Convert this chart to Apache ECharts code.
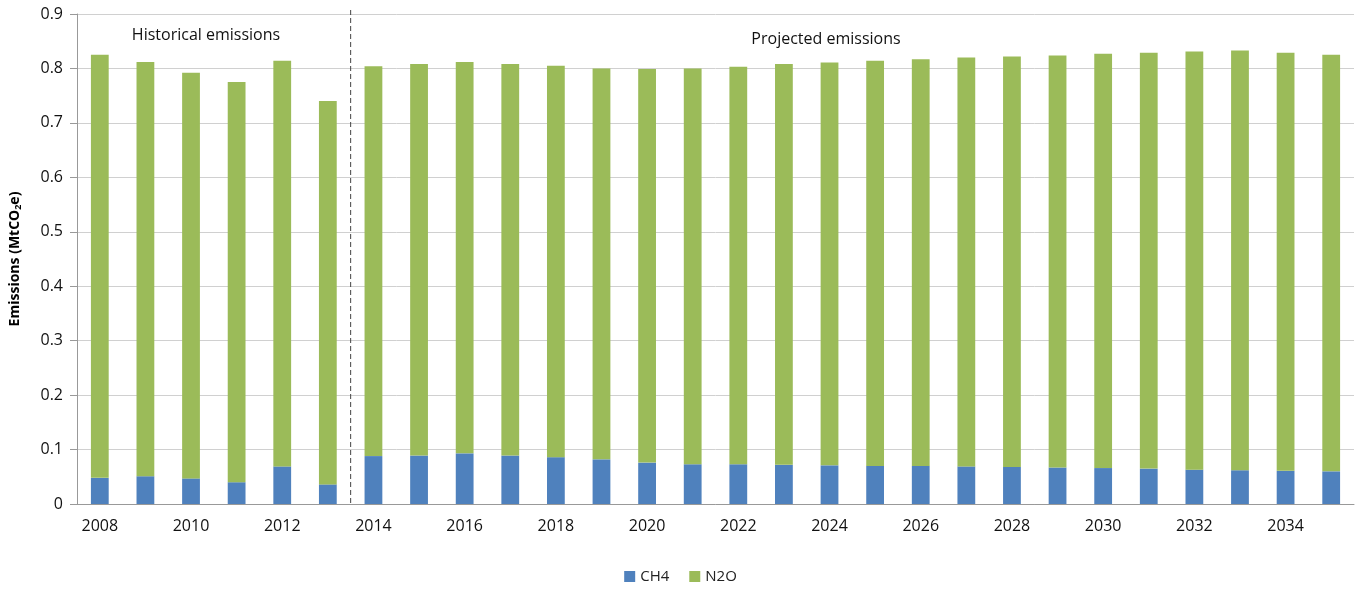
<!DOCTYPE html>
<html><head><meta charset="utf-8">
<script src="https://cdn.jsdelivr.net/npm/echarts@6/dist/echarts.min.js"></script>
<style>html,body{margin:0;padding:0;background:#fff}#c{width:1361px;height:595px}</style>
</head><body><div id="c"></div>
<script>
const years = ['2008','2009','2010','2011','2012','2013','2014','2015','2016','2017','2018','2019','2020','2021','2022','2023','2024','2025','2026','2027','2028','2029','2030','2031','2032','2033','2034','2035'];
const ch4 = [0.048,0.051,0.047,0.040,0.069,0.036,0.088,0.089,0.093,0.089,0.086,0.082,0.076,0.073,0.073,0.072,0.071,0.070,0.070,0.069,0.068,0.067,0.066,0.065,0.063,0.062,0.061,0.060];
const n2o = [0.777,0.761,0.745,0.735,0.745,0.704,0.716,0.719,0.719,0.719,0.719,0.718,0.723,0.727,0.730,0.736,0.740,0.744,0.747,0.751,0.754,0.757,0.761,0.764,0.768,0.771,0.768,0.765];
const yTicks = [0,0.1,0.2,0.3,0.4,0.5,0.6,0.7,0.8,0.9];
const font = 'Open Sans';
const chart = echarts.init(document.getElementById('c'));
chart.setOption({
  animation:false,
  textStyle:{fontFamily:font},
  grid:{left:77,right:7,top:14,bottom:91,containLabel:false,outerBoundsMode:'none'},
  legend:{bottom:6,itemWidth:11,itemHeight:11,itemGap:20,icon:'rect',textStyle:{fontSize:15,color:'#222',fontFamily:font},data:['CH4','N2O']},
  xAxis:{type:'category',data:years,axisTick:{show:false},
    axisLine:{lineStyle:{color:'#999'}},
    axisLabel:{interval:1,color:'#111',fontSize:16,margin:14}},
  yAxis:{type:'value',min:0,max:0.9,interval:0.1,
    name:'Emissions (MtCO{s|2}e)',nameLocation:'middle',nameGap:54,
    nameTextStyle:{fontSize:14,fontWeight:'bold',color:'#000',rich:{s:{fontSize:9,fontWeight:'bold',verticalAlign:'bottom',padding:[6,0,0,0]}}},
    axisLine:{show:true,lineStyle:{color:'#999'}},splitLine:{show:true,lineStyle:{color:'#d0d0d0'}},
    axisTick:{show:true,length:7,lineStyle:{color:'#999'}},
    axisLabel:{color:'#111',fontSize:16,margin:14,formatter:v=>yTicks.includes(Math.round(v*10)/10)?String(Math.round(v*10)/10):''}},
  series:[
    {name:'CH4',type:'bar',stack:'a',data:ch4,barWidth:'39%',itemStyle:{color:'#4F81BD'}},
    {name:'N2O',type:'bar',stack:'a',data:n2o,barWidth:'39%',itemStyle:{color:'#9BBB59'}}
  ]
});
const x5 = chart.convertToPixel({xAxisIndex:0},5), x6 = chart.convertToPixel({xAxisIndex:0},6);
const xm = (x5+x6)/2;
const yTop = chart.convertToPixel({yAxisIndex:0},0.9), yBot = chart.convertToPixel({yAxisIndex:0},0);
chart.setOption({graphic:[
  {type:'line',shape:{x1:xm,y1:yTop-4,x2:xm,y2:yBot},style:{stroke:'#444',lineDash:[5,3],lineWidth:1}},
  {type:'text',x:206,y:35,style:{text:'Historical emissions',fontSize:16,fontFamily:font,fill:'#111',textAlign:'center',textVerticalAlign:'middle'}},
  {type:'text',x:826,y:39,style:{text:'Projected emissions',fontSize:16,fontFamily:font,fill:'#111',textAlign:'center',textVerticalAlign:'middle'}}
]});
</script></body></html>
